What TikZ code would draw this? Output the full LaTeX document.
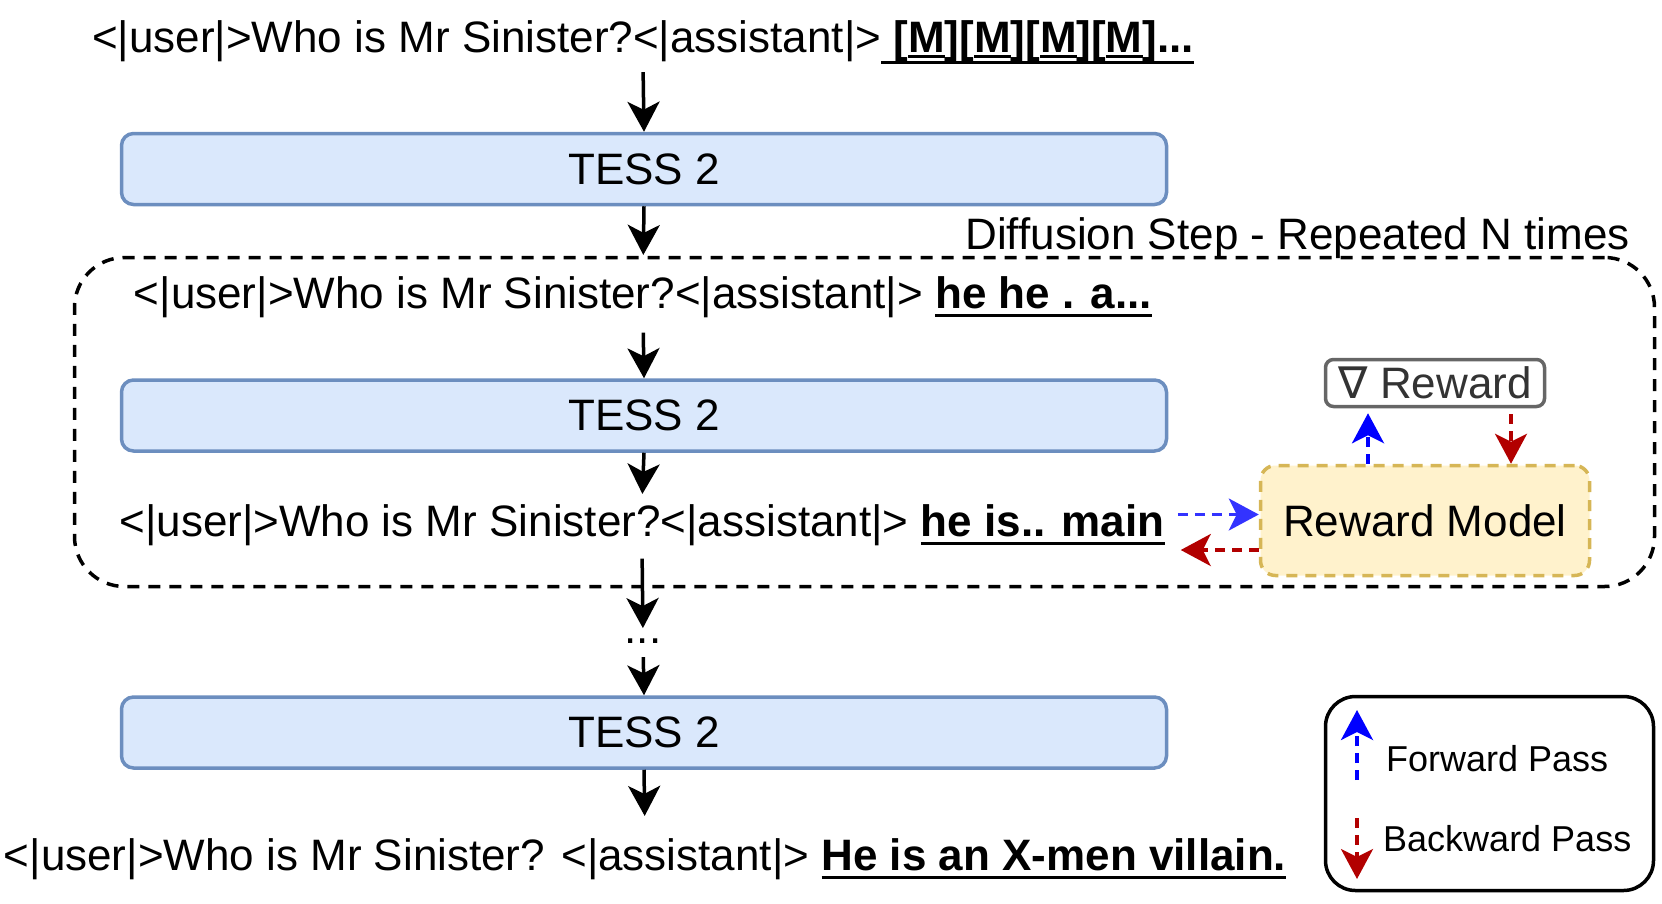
\documentclass[tikz,border=0pt]{standalone}
\usepackage{fontspec}
\setmainfont{Liberation Sans}
\newfontfamily\dv{DejaVu Sans}
\usetikzlibrary{arrows.meta,calc}
\definecolor{tessF}{HTML}{DAE8FC}
\definecolor{tessB}{HTML}{6C8EBF}
\definecolor{rmF}{HTML}{FFF2CC}
\definecolor{rmB}{HTML}{D6B656}
\definecolor{nabB}{HTML}{666666}
\definecolor{nabT}{HTML}{333333}
\definecolor{fwdA}{HTML}{0000FF}
\definecolor{fwdB}{HTML}{3333FF}
\definecolor{bwdA}{HTML}{B20000}
\newcommand\fs[1]{\fontsize{#1}{#1}\selectfont}
\newcommand\ulx[2]{\setbox0=\hbox{#2}\leavevmode\rlap{\rule[-#1]{\wd0}{3pt}}\box0}
\tikzset{
  arr/.style={line width=3.5pt, -{Stealth[length=30pt,width=32pt,inset=8pt]}},
  fwd/.style={line width=3.5pt, draw=fwdA, dash pattern=on 10pt off 7pt, -{Stealth[length=30pt,width=32pt,inset=8pt,fill=fwdA]}},
  fwdh/.style={fwd, draw=fwdB, -{Stealth[length=30pt,width=32pt,inset=8pt,fill=fwdB]}},
  bwd/.style={line width=3.5pt, draw=bwdA, dash pattern=on 10pt off 7pt, -{Stealth[length=30pt,width=32pt,inset=8pt,fill=bwdA]}},
  tess/.style={draw=tessB, fill=tessF, line width=3.5pt, rounded corners=12pt, minimum width=1045pt, minimum height=71pt, inner sep=0pt, font=\fs{44}},
  txt/.style={inner sep=0pt, anchor=base, font=\fs{44}},
  loopbox/.style={draw, line width=3.5pt, dash pattern=on 12pt off 9pt, rounded corners=50pt, minimum width=1580pt, minimum height=329pt, inner sep=0pt},
  rmbox/.style={draw=rmB, fill=rmF, line width=3.5pt, dash pattern=on 11pt off 8pt, rounded corners=15pt, minimum width=329pt, minimum height=110pt, inner sep=0pt, font=\fs{44}},
  nabbox/.style={draw=nabB, line width=3.5pt, rounded corners=8pt, minimum width=219pt, minimum height=47pt, inner sep=0pt, text=nabT, font=\fs{44}},
  legbox/.style={draw, line width=3.5pt, rounded corners=30pt, minimum width=328pt, minimum height=194pt, inner sep=0pt},
  legtxt/.style={inner sep=0pt, anchor=base west, font=\fs{36}}
}
\begin{document}
\begin{tikzpicture}[x=1pt,y=-1pt]
\useasboundingbox (0,0) rectangle (1662,903);
% dashed loop region
\node[loopbox] (loop) at (864.5,422) {};
\node[txt, anchor=base east] (diff) at (1630,249) {Diffusion Step - Repeated N times};
% texts
\node[txt] (t1) at (643,52) {<|user|>Who is Mr Sinister?<|assistant|>\textbf{\ulx{12pt}{\ [\ulx{6pt}{M}][\ulx{6pt}{M}][\ulx{6pt}{M}][\ulx{6pt}{M}]...}}};
\node[tess] (tess1) at (644,169) {TESS 2};
\node[txt] (t2) at (643,308) {<|user|>Who is Mr Sinister?<|assistant|> \textbf{\ulx{9pt}{he he . a...}}};
\node[tess] (tess2) at (644,415.5) {TESS 2};
\node[txt] (t3) at (642,536) {<|user|>Who is Mr Sinister?<|assistant|> \textbf{\ulx{9pt}{he is.. main}}};
\node[txt] (dots) at (643,643) {...};
\node[tess] (tess3) at (644,732.5) {TESS 2};
\node[txt] (t4) at (645,870) {<|user|>Who is Mr Sinister? <|assistant|> \textbf{\ulx{9pt}{He is an X-men villain.}}};
% reward
\node[rmbox] (rm) at (1425,520.5) {Reward Model};
\node[nabbox] (nab) at (1435,383) {{\dv ∇} Reward};
% main arrows
\draw[arr, shorten <=8pt] (t1.south) -- (tess1.north);
\draw[arr, shorten >=21pt] (tess1.south) -- (t2.north);
\draw[arr, shorten <=15pt] (t2.south) -- (tess2.north);
\draw[arr, shorten >=10pt] (tess2.south) -- (t3.north);
\draw[arr, shorten <=13pt, shorten >=10pt] (t3.south) -- (dots.north);
\draw[arr, shorten <=14pt] (dots.south) -- (tess3.north);
\draw[arr, shorten >=22pt] (tess3.south) -- (t4.north);
% reward arrows
\coordinate (fR) at ($(rm.west)+(0,-6)$);
\coordinate (fL) at (fR -| t3.east);
\draw[fwdh, shorten <=13pt] (fL) -- (fR);
\coordinate (bR) at ($(rm.west)+(0,29.5)$);
\coordinate (bL) at (bR -| t3.east);
\draw[bwd, shorten >=16pt] (bR) -- (bL);
\draw[fwd, shorten >=5pt] ($(rm.north)+(-57,0)$) -- ($(nab.south)+(-67,0)$);
\draw[bwd, shorten <=6pt] ($(nab.south)+(76,0)$) -- ($(rm.north)+(86,0)$);
% legend
\node[legbox] (leg) at (1489.5,793.5) {};
\coordinate (lf1) at (1357,780);
\coordinate (lf2) at (1357,710);
\coordinate (lb1) at (1357,818);
\coordinate (lb2) at (1357,879);
\draw[fwd] (lf1) -- (lf2);
\draw[bwd] (lb1) -- (lb2);
\node[legtxt] (lfw) at (1386,771) {Forward Pass};
\node[legtxt] (lbw) at (1383,851) {Backward Pass};
\end{tikzpicture}
\end{document}
